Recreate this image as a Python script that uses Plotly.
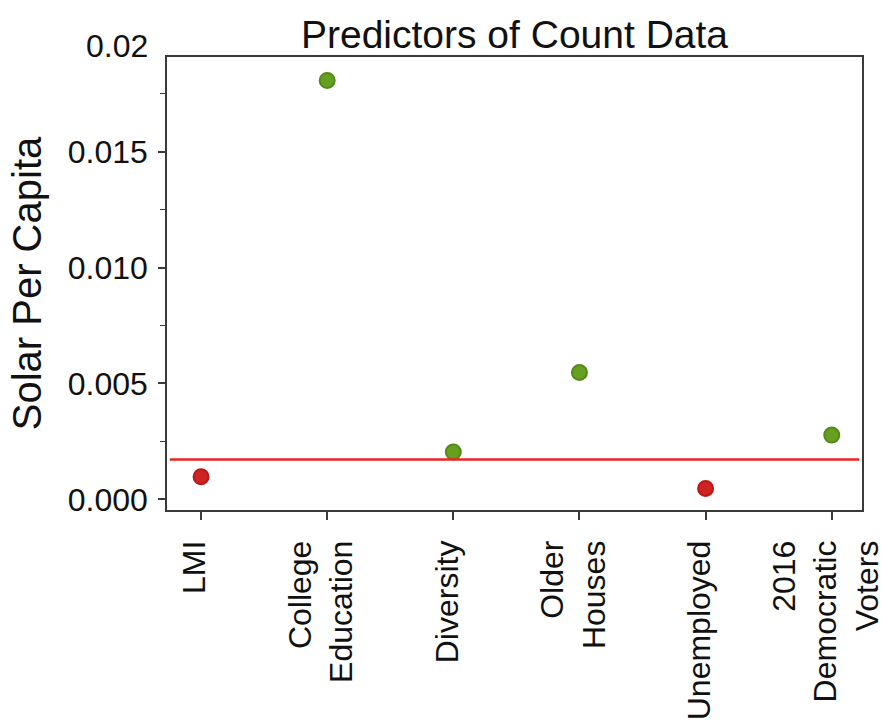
import plotly.graph_objects as go

categories = ["LMI", "College<br>Education", "Diversity", "Older<br>Houses",
              "Unemployed", "2016<br>Democratic<br>Voters"]
values = [0.00097, 0.01807, 0.00204, 0.00547, 0.00047, 0.00277]
baseline = 0.00172
ytick_vals = [0.0, 0.005, 0.010, 0.015]
ytick_text = ["0.000", "0.005", "0.010", "0.015"]
top_label = "0.02"

fill = ["#cf2323" if v < baseline else "#65a020" for v in values]
edge = ["#b81818" if v < baseline else "#548a17" for v in values]

FONT = "Liberation Sans, Arial, sans-serif"

fig = go.Figure()
fig.add_trace(go.Scatter(
    x=list(range(len(categories))), y=values, mode="markers",
    marker=dict(size=15, color=fill, line=dict(color=edge, width=2)),
    showlegend=False, cliponaxis=False,
))

fig.add_shape(type="line", xref="x domain", yref="y", x0=0.004, x1=0.996,
              y0=baseline, y1=baseline, line=dict(color="#ee2222", width=2.5))

fig.add_annotation(text=top_label, xref="paper", yref="paper",
                   x=-0.0245, y=1.0243, xanchor="right", yanchor="middle",
                   showarrow=False, font=dict(family=FONT, size=32, color="#111"))

fig.update_layout(
    width=881, height=721,
    margin=dict(l=167, r=19, t=57, b=211, autoexpand=False),
    paper_bgcolor="white", plot_bgcolor="white",
    font=dict(family=FONT, color="#111"),
    title=dict(text="Predictors of Count Data", x=0.584, xanchor="center",
               y=1 - 34 / 721, yanchor="middle", yref="container",
               font=dict(size=39, family=FONT, color="#111")),
    xaxis=dict(
        range=[-0.27, 5.24], tickmode="array",
        tickvals=list(range(len(categories))), ticktext=categories,
        tickangle=-90, tickfont=dict(size=32, family=FONT, color="#111"),
        showgrid=False, zeroline=False, showline=True, mirror=True,
        linecolor="#3a3a3a", linewidth=1.6,
        ticks="outside", ticklen=8, tickwidth=1.5, tickcolor="#3a3a3a",
        ticklabelstandoff=8, ticklabelshift=-6,
        automargin=False, ticklabeloverflow="allow",
    ),
    yaxis=dict(
        range=[-0.00046, 0.01908], tickmode="array",
        tickvals=ytick_vals, ticktext=ytick_text,
        tickfont=dict(size=32, family=FONT, color="#111"),
        showgrid=False, zeroline=False, showline=True, mirror=True,
        linecolor="#3a3a3a", linewidth=1.6,
        ticks="outside", ticklen=7, tickwidth=1.5, tickcolor="#3a3a3a",
        ticklabelstandoff=4, automargin=False, ticklabeloverflow="allow",
        minor=dict(tickmode="array", tickvals=[0.0025, 0.0075, 0.0125, 0.0175],
                   ticks="outside", ticklen=5, tickwidth=1.2, tickcolor="#3a3a3a",
                   showgrid=False),
        title=dict(text="Solar Per Capita", standoff=14,
                   font=dict(size=40, family=FONT, color="#111")),
    ),
)

fig.write_html("out.html")
